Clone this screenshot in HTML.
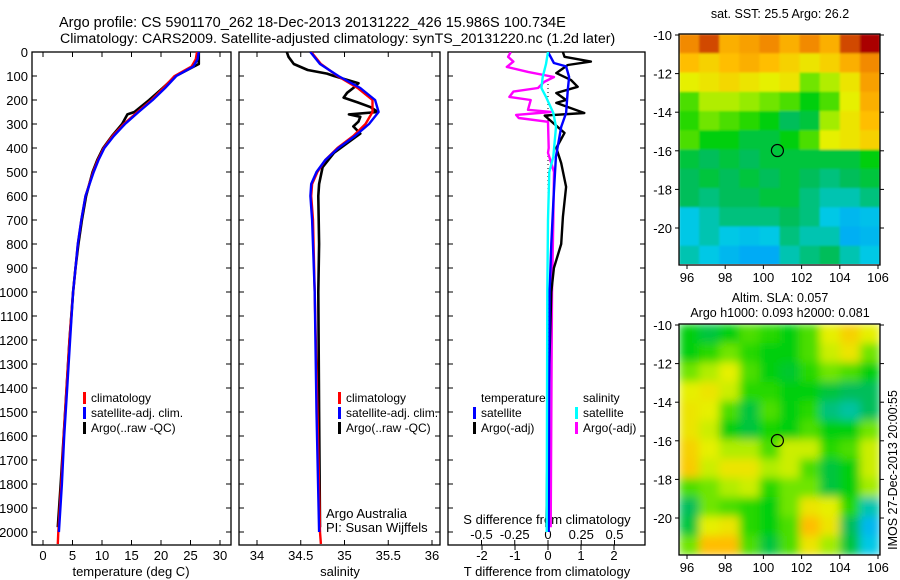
<!DOCTYPE html>
<html><head><meta charset="utf-8"><style>
html,body{margin:0;padding:0;background:#fff;}
svg{display:block;font-family:"Liberation Sans",sans-serif;}
</style></head><body>
<svg id="fig" width="900" height="580" viewBox="0 0 900 580" xmlns="http://www.w3.org/2000/svg">
<defs>
<filter id="blur2" x="0" y="0" width="1" height="1"><feGaussianBlur stdDeviation="4.5"/></filter>
<filter id="blur1" x="0" y="0" width="1" height="1"><feGaussianBlur stdDeviation="1"/></filter>
<clipPath id="c1"><rect x="32" y="52" width="199" height="493"/></clipPath>
<clipPath id="c2"><rect x="239" y="52" width="201" height="493"/></clipPath>
<clipPath id="c3"><rect x="448" y="52" width="197" height="493"/></clipPath>
<clipPath id="cm1"><rect x="679" y="34" width="201" height="230"/></clipPath>
<clipPath id="cm2"><rect x="679" y="324" width="201" height="231"/></clipPath>
</defs>
<text x="59" y="27" font-size="14.5">Argo profile: CS 5901170_262 18-Dec-2013 20131222_426 15.986S 100.734E</text>
<text x="60" y="43" font-size="14.2">Climatology: CARS2009. Satellite-adjusted climatology: synTS_20131220.nc (1.2d later)</text>
<g id="layer"></g>
</svg>
<script>
// ---------- data ----------
const depthTicks = [0,100,200,300,400,500,600,700,800,900,1000,1100,1200,1300,1400,1500,1600,1700,1800,1900,2000];
const tempTicks = [0,5,10,15,20,25,30];
const salTicks = [34,34.5,35,35.5,36];
const salTickLabels = ["34","34.5","35","35.5","36"];
const tdiffTicks = [-2,-1,0,1,2];
const sdiffTicks = [-0.5,-0.25,0,0.25,0.5];
const sdiffTickLabels = ["-0.5","-0.25","0","0.25","0.5"];

const tDepth = [0,30,60,100,150,200,250,300,350,400,450,500,600,700,800,900,1000,1200,1400,1600,1800,2000,2050];
const tClim = [26.1,25.9,25.2,22.3,20.4,18.4,16,13.7,11.8,10.3,9.3,8.5,7.2,6.5,5.9,5.5,5.1,4.5,4.0,3.5,3.1,2.6,2.5];
const tSatDepth = [0,30,60,100,150,200,250,300,350,400,450,500,600,700,800,900,1000,1200,1400,1600,1800,2000];
const tSat = [26.4,26.2,25.5,22.6,20.7,18.6,16.2,13.9,12.0,10.4,9.4,8.6,7.2,6.5,5.9,5.5,5.1,4.6,4.1,3.6,3.2,2.7];
const tArgoDepth = [0,50,60,100,150,200,250,260,300,350,400,450,500,600,700,800,900,1000,1200,1400,1600,1800,1980];
const tArgo = [26.4,26.4,25.6,22.5,20.3,18.0,15.5,14.3,13.4,11.7,10.2,9.2,8.4,7.3,6.6,6.0,5.5,5.1,4.5,4.0,3.5,3.0,2.5];

const sDepth = [0,50,100,150,200,250,300,350,400,450,500,550,600,700,1000,1500,2000,2050];
const sClim = [34.62,34.73,34.92,35.15,35.32,35.32,35.24,35.10,34.92,34.78,34.69,34.63,34.62,34.64,34.66,34.69,34.72,34.73];
const sSatDepth = [0,50,100,150,200,250,300,350,400,450,500,550,600,700,1000,1500,2000];
const sSat = [34.61,34.72,34.93,35.18,35.35,35.39,35.28,35.12,34.93,34.78,34.68,34.62,34.61,34.63,34.66,34.68,34.71];
const sArgoDepth = [0,20,50,75,90,100,130,150,170,190,210,230,250,260,270,290,310,340,380,420,480,550,600,800,1000,1500,1980];
const sArgo = [34.34,34.36,34.42,34.58,34.80,34.88,35.16,35.10,35.03,34.99,35.15,35.30,35.38,35.05,35.18,35.16,35.10,35.18,35.03,34.88,34.75,34.71,34.70,34.71,34.70,34.71,34.72];

const dtSatDepth = [0,46,60,104,158,254,312,437,604,800,1000,1500,2000];
const dtSat = [0,0.18,0.55,0.64,0.6,0.55,0.4,0.24,0.17,0.1,0.05,0.03,0.02];
const dtArgoDepth = [0,20,40,54,88,117,145,171,200,212,254,265,337,400,463,562,687,800,900,1000,1500,1980];
const dtArgo = [0.45,0.5,1.3,0.6,0.25,0.7,0.9,0.25,0.55,0.25,1.1,-0.1,0.5,0.25,0.4,0.55,0.45,0.4,0.18,0.1,0,-0.05];
const dsSatDepth = [0,50,104,150,187,254,312,437,500,700,1000,2000];
const dsSat = [0,-0.015,-0.04,-0.05,-0.015,0.04,0.06,0.04,0.01,0,-0.005,-0.01];
const dsArgoDepth = [0,20,40,62,83,104,125,150,165,187,200,241,250,262,275,291,400,420,500,700,1000,1980];
const dsArgo = [-0.28,-0.3,-0.26,-0.31,-0.15,0.045,-0.03,-0.075,-0.26,-0.29,-0.13,-0.15,0.02,-0.24,-0.22,0,0.005,0,0.045,0.04,0.03,0.02];

const lonTicks = [96,98,100,102,104,106];
const latTicks = [-10,-12,-14,-16,-18,-20];
const argoLon = 100.734, argoLat = -15.986;
const sstGrid = [
[0.85,0.9,0.8,0.82,0.85,0.8,0.85,0.8,0.9,0.95],
[0.78,0.75,0.78,0.8,0.78,0.75,0.72,0.75,0.8,0.85],
[0.7,0.72,0.74,0.72,0.7,0.72,0.62,0.66,0.72,0.82],
[0.6,0.66,0.66,0.64,0.62,0.6,0.55,0.6,0.7,0.8],
[0.58,0.62,0.6,0.58,0.55,0.5,0.52,0.65,0.72,0.78],
[0.6,0.55,0.55,0.52,0.52,0.55,0.6,0.7,0.72,0.75],
[0.52,0.5,0.52,0.5,0.52,0.52,0.52,0.52,0.52,0.55],
[0.5,0.52,0.5,0.52,0.5,0.52,0.5,0.48,0.5,0.52],
[0.5,0.48,0.5,0.5,0.52,0.52,0.48,0.45,0.45,0.48],
[0.42,0.45,0.48,0.48,0.48,0.5,0.48,0.42,0.38,0.4],
[0.42,0.45,0.42,0.4,0.42,0.48,0.45,0.45,0.36,0.38],
[0.45,0.42,0.38,0.35,0.35,0.45,0.48,0.5,0.45,0.42]];
const slaGrid = [
[0.55,0.52,0.55,0.6,0.58,0.55,0.6,0.7,0.75,0.7],
[0.55,0.58,0.62,0.58,0.55,0.55,0.6,0.68,0.72,0.62],
[0.62,0.66,0.7,0.6,0.55,0.53,0.58,0.62,0.6,0.55],
[0.7,0.72,0.68,0.58,0.58,0.55,0.55,0.52,0.5,0.5],
[0.72,0.7,0.6,0.52,0.6,0.55,0.58,0.48,0.46,0.5],
[0.72,0.68,0.55,0.52,0.57,0.55,0.6,0.55,0.55,0.62],
[0.75,0.7,0.66,0.66,0.6,0.68,0.68,0.58,0.6,0.68],
[0.76,0.68,0.72,0.72,0.66,0.68,0.6,0.52,0.55,0.68],
[0.6,0.62,0.66,0.68,0.58,0.62,0.62,0.52,0.55,0.65],
[0.5,0.62,0.6,0.58,0.55,0.62,0.72,0.7,0.58,0.45],
[0.52,0.7,0.72,0.58,0.55,0.6,0.78,0.72,0.5,0.38],
[0.62,0.78,0.78,0.6,0.52,0.6,0.72,0.65,0.52,0.42]];

// ---------- helpers ----------
const NS="http://www.w3.org/2000/svg";
const L=document.getElementById('layer');
function mk(tag,attrs,parent){const e=document.createElementNS(NS,tag);for(const k in attrs)e.setAttribute(k,attrs[k]);(parent||L).appendChild(e);return e;}
function txt(x,y,s,size,anchor,parent){const t=mk('text',{x:x,y:y,'font-size':size,'text-anchor':anchor||'start'},parent);t.textContent=s;return t;}
const yD = d => 52 + d*0.24;
const xT = v => 43 + v*5.9;
const xS = v => 257 + (v-34)*87.5;
const xDT = v => 548 + v*33;
const xDS = v => 548 + v*133;
function poly(xs,ds,fx,color,clip,name,w){
  const p=xs.map((v,i)=>fx(v).toFixed(1)+','+yD(ds[i]).toFixed(1)).join(' ');
  const e=mk('polyline',{points:p,fill:'none',stroke:color,'stroke-width':w||2.4,'stroke-linejoin':'round','clip-path':'url(#'+clip+')'});
  
  
}
function frame(x0,x1,name){
  const r=mk('rect',{x:x0,y:52,width:x1-x0,height:493,fill:'none',stroke:'#000','stroke-width':1.3});
  
  
  depthTicks.forEach(d=>{mk('line',{x1:x0,y1:yD(d),x2:x0+5,y2:yD(d),stroke:'#000'});mk('line',{x1:x1,y1:yD(d),x2:x1-5,y2:yD(d),stroke:'#000'});});
}
function xticks(vals,labels,fx,y){
  vals.forEach((v,i)=>{const x=fx(v);mk('line',{x1:x,y1:545,x2:x,y2:540,stroke:'#000'});mk('line',{x1:x,y1:52,x2:x,y2:57,stroke:'#000'});
   const t=txt(x,y,labels[i],13,'middle');
   
   });
}
function legendEntry(x,y,color,label){
  mk('rect',{x:x,y:y-10,width:3,height:12,fill:color});
  const t=txt(x+8,y,label,12);
  
  
}

// ---------- panel 1: temperature ----------
frame(32,231,'temperature-panel');
depthTicks.forEach(d=>{const t=txt(28,yD(d)+5,String(d),13,'end');
  
  });
xticks(tempTicks,tempTicks.map(String),xT,560);
let at=txt(131,576,'temperature (deg C)',13,'middle');


poly(tArgo,tArgoDepth,xT,'#000','c1','temp-argo-line',2.6);
poly(tClim,tDepth,xT,'#f00','c1','temp-climatology-line');
poly(tSat,tSatDepth,xT,'#00f','c1','temp-satellite-line');
legendEntry(83,402,'#f00','climatology');
legendEntry(83,417,'#00f','satellite-adj. clim.');
legendEntry(83,432,'#000','Argo(..raw -QC)');

// ---------- panel 2: salinity ----------
frame(239,440,'salinity-panel');
xticks(salTicks,salTickLabels,xS,560);
at=txt(340,576,'salinity',13,'middle');


poly(sArgo,sArgoDepth,xS,'#000','c2','sal-argo-line',2.6);
poly(sClim,sDepth,xS,'#f00','c2','sal-climatology-line');
poly(sSat,sSatDepth,xS,'#00f','c2','sal-satellite-line');
legendEntry(338,402,'#f00','climatology');
legendEntry(338,417,'#00f','satellite-adj. clim.');
legendEntry(338,432,'#000','Argo(..raw -QC)');
at=txt(326,518,'Argo Australia',13);


at=txt(326,532,'PI: Susan Wijffels',13);



// ---------- panel 3: differences ----------
frame(448,645,'difference-panel');
tdiffTicks.forEach(v=>{const x=xDT(v);mk('line',{x1:x,y1:545,x2:x,y2:550,stroke:'#000'});
  const t=txt(x,560,String(v),13,'middle');
  
  });
sdiffTicks.forEach((v,i)=>{const x=xDS(v);mk('line',{x1:x,y1:545,x2:x,y2:540,stroke:'#000'});
  const t=txt(x,539,sdiffTickLabels[i],13,'middle');
  
  });
at=txt(547,524,'S difference from climatology',13,'middle');


at=txt(547,576,'T difference from climatology',13,'middle');


mk('line',{x1:xDT(0),y1:yD(100),x2:xDT(0),y2:yD(2000),stroke:'#000','stroke-dasharray':'1,3'});
poly(dsArgo,dsArgoDepth,xDS,'#f0f','c3','s-diff-argo-line');
poly(dtArgo,dtArgoDepth,xDT,'#000','c3','t-diff-argo-line');
poly(dtSat,dtSatDepth,xDT,'#00f','c3','t-diff-satellite-line');
poly(dsSat,dsSatDepth,xDS,'#0ff','c3','s-diff-satellite-line');
at=txt(481,402,'temperature',12);


at=txt(583,402,'salinity',12);


legendEntry(473,417,'#00f','satellite');
legendEntry(473,432,'#000','Argo(-adj)');
legendEntry(575,417,'#0ff','satellite');
legendEntry(575,432,'#f0f','Argo(-adj)');

// ---------- maps ----------
function cmap(v){
  const stops=[[0.3,[0,150,255]],[0.42,[0,200,230]],[0.5,[0,190,90]],[0.56,[0,210,0]],[0.64,[150,235,0]],[0.7,[230,240,0]],[0.78,[255,190,0]],[0.86,[240,130,0]],[0.95,[170,0,0]]];
  if(v<=stops[0][0])return 'rgb('+stops[0][1]+')';
  for(let i=1;i<stops.length;i++){if(v<=stops[i][0]){const a=stops[i-1],b=stops[i],t=(v-a[0])/(b[0]-a[0]);
    return 'rgb('+a[1].map((c,k)=>Math.round(c+(b[1][k]-c)*t)).join(',')+')';}}
  return 'rgb('+stops[stops.length-1][1]+')';
}
function map(top,grid,clip,name,filt,t1,t2){
  const xL=lon=>687+(lon-96)*19.1, yL=lat=>top+1+(-10-lat)*19.3;
  const g=mk('g',{'clip-path':'url(#'+clip+')'});
  
  
  const gi=mk('g',{filter:'url(#'+filt+')'},g);
  mk('rect',{x:679,y:top,width:201,height:231,fill:cmap(0.55)},gi);
  const nr=grid.length,nc=grid[0].length,cw=201/nc,ch=231/nr;
  grid.forEach((row,r)=>row.forEach((v,c)=>{const cell=mk('rect',{x:679+c*cw,y:top+r*ch,width:cw+0.5,height:ch+0.5,fill:cmap(v)},gi);
    
    }));
  mk('rect',{x:679,y:top,width:201,height:231,fill:'none',stroke:'#000','stroke-width':1.3});
  latTicks.forEach(l=>{const y=yL(l);mk('line',{x1:679,y1:y,x2:675,y2:y,stroke:'#000'});mk('line',{x1:880,y1:y,x2:884,y2:y,stroke:'#000'});
    const t=txt(672,y+5,String(l),13,'end');
    
    });
  lonTicks.forEach(l=>{const x=xL(l);mk('line',{x1:x,y1:top+231,x2:x,y2:top+235,stroke:'#000'});
    const t=txt(x,top+248,String(l),13,'middle');
    
    });
  const c=mk('circle',{cx:xL(argoLon),cy:yL(argoLat),r:6,fill:'none',stroke:'#000','stroke-width':1.2});
  
  
  let t=txt(780,top-22+(t2?0:6),t1,12.5,'middle');
  
  
  if(t2){t=txt(780,top-7,t2,12.5,'middle');
    
    }
}
map(34,sstGrid,'cm1','sst-map','blur1','sat. SST: 25.5 Argo: 26.2',null);
map(324,slaGrid,'cm2','sla-map','blur2','Altim. SLA: 0.057','Argo h1000: 0.093 h2000: 0.081');

const stamp=txt(0,0,'IMOS 27-Dec-2013 20:00:55',12.5,'middle');
stamp.setAttribute('transform','translate(897,470) rotate(-90)');


</script>
</body></html>
